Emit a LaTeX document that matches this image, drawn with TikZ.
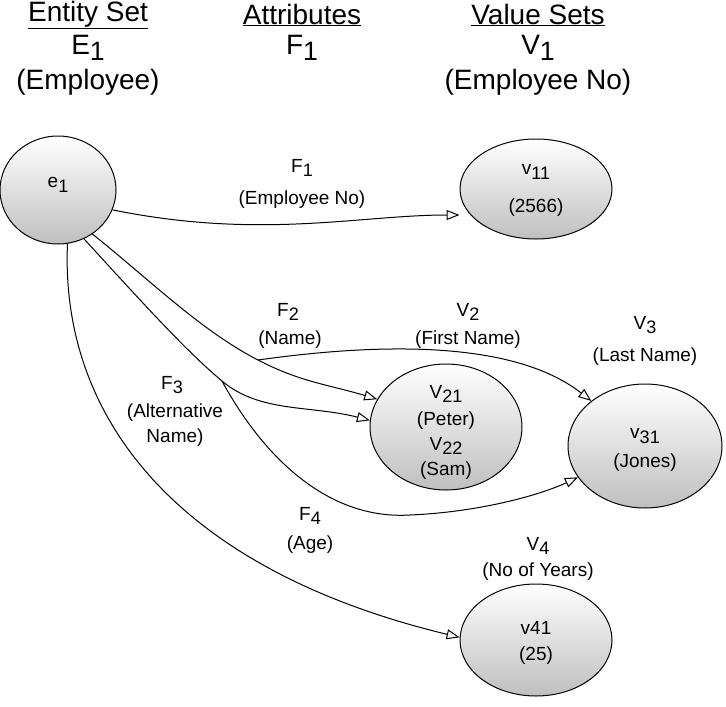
\documentclass[tikz,border=0pt]{standalone}
\usepackage{fontspec}
\setmainfont{Liberation Sans}
\usetikzlibrary{arrows.meta,shapes.geometric}
\newcommand\sbx[1]{\raisebox{-0.45ex}{\scalebox{0.95}{#1}}}
\begin{document}
\begin{tikzpicture}[x=1pt,y=-1pt,
  ent/.style={ellipse,draw,line width=1pt,top color=white,bottom color=gray!50,inner sep=0pt},
  lbl/.style={font=\fontsize{19}{25}\selectfont,align=center},
  hdr/.style={font=\fontsize{28}{30}\selectfont,align=center},
  arr/.style={line width=1pt,-{Triangle[open,length=13pt,width=10pt]}}]
\useasboundingbox (0,0) rectangle (726,707);
\node[ent,minimum width=116pt,minimum height=108pt] (e1) at (58,190) {};
\node[ent,minimum width=152pt,minimum height=100pt] (v11) at (536,189) {};
\node[ent,minimum width=152pt,minimum height=126pt] (v2) at (446,427) {};
\node[ent,minimum width=154pt,minimum height=124pt] (v31) at (645,446) {};
\node[ent,minimum width=152pt,minimum height=112pt] (v41) at (536,640) {};
% headers
\node[hdr] (h1) at (88,15) {\underline{Entity Set}};
\node[hdr] (h1b) at (88,48) {E\sbx{1}};
\node[hdr] (h1c) at (88,82) {(Employee)};
\node[hdr] (h2) at (302,15) {\underline{Attributes}};
\node[hdr] (h2b) at (302,48) {F\sbx{1}};
\node[hdr] (h3) at (538,15) {\underline{Value Sets}};
\node[hdr] (h3b) at (538,48) {V\sbx{1}};
\node[hdr] (h3c) at (538,82) {(Employee No)};
% node texts
\node[lbl] (te1) at (58,185) {e\sbx{1}};
\node[lbl] (tv11) at (536,172) {v\sbx{11}};
\node[lbl] (tv11b) at (536,208) {(2566)};
\node[lbl] (tv21) at (446,394) {V\sbx{21}};
\node[lbl] (tv21b) at (446,421) {(Peter)};
\node[lbl] (tv22) at (446,446) {V\sbx{22}};
\node[lbl] (tv22b) at (446,471) {(Sam)};
\node[lbl] (tv31) at (645,436) {v\sbx{31}};
\node[lbl] (tv31b) at (645,463) {(Jones)};
\node[lbl] (tv41) at (536,628) {v41};
\node[lbl] (tv41b) at (536,656) {(25)};
% labels
\node[lbl] (f1) at (302,168) {F\sbx{1}};
\node[lbl] (f1b) at (302,200) {(Employee No)};
\node[lbl] (f2) at (288,312) {F\sbx{2}};
\node[lbl] (f2b) at (290,340) {(Name)};
\node[lbl] (l2) at (468,312) {V\sbx{2}};
\node[lbl] (l2b) at (468,340) {(First Name)};
\node[lbl] (l3) at (645,325) {V\sbx{3}};
\node[lbl] (l3b) at (645,357) {(Last Name)};
\node[lbl] (f3) at (172,385) {F\sbx{3}};
\node[lbl] (f3b) at (175,425) {(Alternative\\Name)};
\node[lbl] (f4) at (310,516) {F\sbx{4}};
\node[lbl] (f4b) at (310,545) {(Age)};
\node[lbl] (l4) at (538,546) {V\sbx{4}};
\node[lbl] (l4b) at (538,572) {(No of Years)};
% edges
\coordinate (A) at (258,360);
\coordinate (B) at (222,381);
\draw[arr] (e1.-20) .. controls (260,240) and (360,215) .. (v11.west|-0,215);
\draw[arr] (e1.-52) .. controls (150,280) and (200,330) .. (A) .. controls (300,382) and (330,385) .. (v2.158);
\draw[arr] (e1.-62) .. controls (140,300) and (185,350) .. (B) .. controls (260,413) and (310,405) .. (v2.175);
\draw[arr] (A) .. controls (400,340) and (520,345) .. (v31.140);
\draw[arr] (B) .. controls (265,460) and (330,520) .. (410,515) .. controls (480,512) and (540,495) .. (v31.205);
\draw[arr] (e1.-80) .. controls (60,420) and (180,570) .. (v41.178);
\end{tikzpicture}
\end{document}
